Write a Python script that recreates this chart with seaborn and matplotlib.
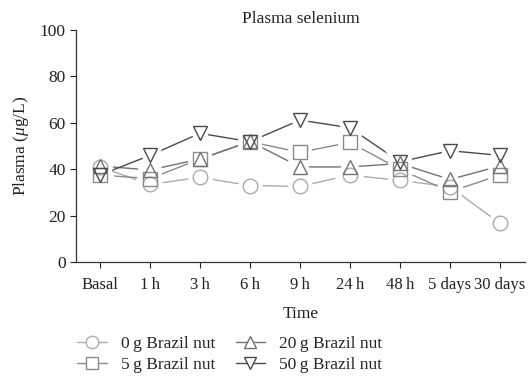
import numpy as np
import pandas as pd
import seaborn as sns
import matplotlib
matplotlib.use("Agg")
import matplotlib.pyplot as plt
from matplotlib.lines import Line2D

# Time points and plasma selenium (µg/L) for each Brazil nut dose
times = ["Basal", "1\u2009h", "3\u2009h", "6\u2009h", "9\u2009h", "24\u2009h", "48\u2009h",
         "5 days", "30 days"]
groups = ["0\u2009g Brazil nut", "5\u2009g Brazil nut", "20\u2009g Brazil nut", "50\u2009g Brazil nut"]
se_0g = [41.0, 33.5, 36.5, 33.0, 32.6, 37.5, 35.2, 32.5, 16.7]
se_5g = [37.5, 36.0, 44.4, 51.9, 47.3, 51.6, 40.0, 30.3, 37.5]
se_20g = [41.4, 39.7, 44.4, 52.0, 41.0, 41.0, 42.5, 35.6, 41.4]
se_50g = [37.5, 46.0, 55.5, 51.9, 61.2, 57.9, 43.2, 48.0, 46.0]

colors = ["#ababab", "#8a8a8a", "#727272", "#4a4a4a"]
markers = ["o", "s", "^", "v"]

sns.set_style("ticks")
plt.rcParams["font.family"] = ["Liberation Serif", "DejaVu Serif"]
plt.rcParams["mathtext.fontset"] = "custom"
plt.rcParams["mathtext.it"] = "Liberation Serif:italic"
plt.rcParams["mathtext.rm"] = "Liberation Serif"

df = pd.DataFrame({
    "pos": np.tile(np.arange(len(times)), len(groups)),
    "value": np.concatenate([se_0g, se_5g, se_20g, se_50g]),
    "group": np.repeat(groups, len(times)),
})

palette = dict(zip(groups, colors))
marker_map = dict(zip(groups, markers))

fig = plt.figure(figsize=(5.28, 3.76), dpi=100)
ax = fig.add_axes([0.144, 0.303, 0.850, 0.617])

# connecting lines
sns.lineplot(data=df, x="pos", y="value", hue="group", palette=palette,
             legend=False, lw=1.0, ax=ax)
for ln in ax.lines:
    ln.set_zorder(1)
n_lines = len(ax.lines)

# white halos that open a small gap between lines and markers
sns.lineplot(data=df, x="pos", y="value", hue="group", style="group",
             markers=marker_map, dashes=False, palette=palette,
             legend=False, ax=ax, linestyle="none", markersize=10.5)
for ln in ax.lines[n_lines:]:
    ln.set_markerfacecolor("white")
    ln.set_markeredgecolor("white")
    ln.set_markeredgewidth(7.0)
    ln.set_zorder(2)
n_lines = len(ax.lines)

# hollow markers
sns.lineplot(data=df, x="pos", y="value", hue="group", style="group",
             markers=marker_map, dashes=False, palette=palette,
             legend=False, ax=ax, linestyle="none", markersize=10.5)
for ln in ax.lines[n_lines:]:
    c = ln.get_color()
    ln.set_markerfacecolor("none")
    ln.set_markeredgecolor(c)
    ln.set_markeredgewidth(1.0)
    ln.set_zorder(3)

ax.set_xlim(-0.48, 8.5)
ax.set_ylim(0, 100)
ax.set_xticks(range(len(times)))
ax.set_xticklabels(times)
ax.set_yticks([0, 20, 40, 60, 80, 100])
ax.tick_params(axis="both", labelsize=12, length=4, width=0.8, colors="#222222",
               direction="out")
ax.tick_params(axis="y", labelsize=12.5)
ax.tick_params(axis="x", pad=7)
for s in ["left", "bottom"]:
    ax.spines[s].set_linewidth(0.9)
    ax.spines[s].set_color("#333333")
sns.despine(ax=ax)

ax.set_xlabel("Time", fontsize=12.5, labelpad=9, color="#222222")
ax.set_ylabel(r"Plasma ($\mu$g/L)", fontsize=12.5, labelpad=6, color="#222222")
ax.set_title("Plasma selenium", fontsize=12.5, pad=5, color="#222222")

handles = [Line2D([0], [0], color=c, marker=m, markersize=9, markerfacecolor="white",
                  markeredgecolor=c, lw=1.0)
           for c, m in zip(colors, markers)]
fig.legend(handles, groups, ncol=2, loc="center", bbox_to_anchor=(0.435, 0.058),
           frameon=False, fontsize=12.5, handlelength=1.7, columnspacing=1.2,
           labelspacing=0.3, handletextpad=0.8)

fig.savefig("out.png", dpi=100)
